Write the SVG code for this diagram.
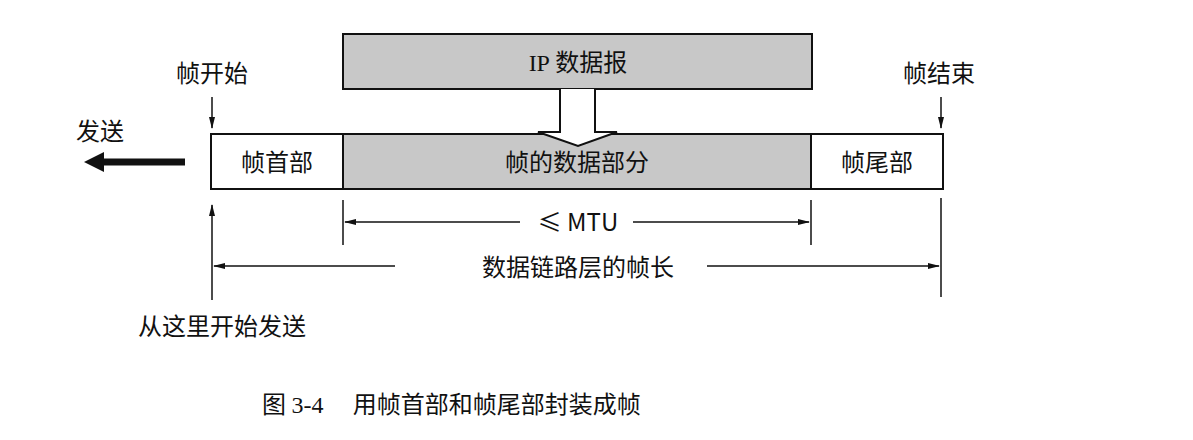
<svg xmlns="http://www.w3.org/2000/svg" width="1193" height="440" viewBox="0 0 1193 440">
<style>
text{font-family:"Noto Sans CJK SC","Liberation Serif",serif;fill:#111;font-size:24px}
.m{text-anchor:middle}
.box{stroke:#111;stroke-width:2}
.gray{fill:#c8c8c8}
.l{stroke:#111;stroke-width:1.5;fill:none}
</style>
<defs>
<marker id="a" markerWidth="12" markerHeight="8" refX="11" refY="4" orient="auto" markerUnits="userSpaceOnUse"><path d="M0,1 L12,4 L0,7 Z" fill="#111"/></marker>
</defs>
<rect width="1193" height="440" fill="#fff"/>
<g id="ip"><rect class="box gray" x="343" y="34" width="469" height="55"/><text class="m" x="578" y="71"><tspan font-family="Liberation Serif">IP</tspan> 数据报</text></g>
<g id="header"><rect class="box" x="211" y="134" width="132" height="55" fill="#fff"/><text class="m" x="277" y="171">帧首部</text></g>
<g id="data"><rect class="box gray" x="343" y="134" width="468" height="55"/><text class="m" x="577" y="171">帧的数据部分</text></g>
<g id="trailer"><rect class="box" x="811" y="134" width="132" height="55" fill="#fff"/><text class="m" x="877" y="171">帧尾部</text></g>
<g id="labels">
<text class="m" x="212" y="82">帧开始</text>
<text class="m" x="939" y="82">帧结束</text>
<text class="m" x="100" y="140">发送</text>
<text class="m" x="222" y="335">从这里开始发送</text>
<text class="m" x="578" y="231" font-family="Liberation Serif">≤ MTU</text>
<text class="m" x="578" y="276">数据链路层的帧长</text>
<text x="262" y="413" font-size="26">图 <tspan font-family="Liberation Serif">3-4</tspan>　 用帧首部和帧尾部封装成帧</text>
</g>
<g id="connectors">
<path d="M560,89 V132 H538 L578,146 L617,132 H595 V89" fill="#fff" stroke="#111" stroke-width="2"/>
<line class="l" x1="212" y1="97" x2="212" y2="128" marker-end="url(#a)"/>
<line class="l" x1="941" y1="97" x2="941" y2="128" marker-end="url(#a)"/>
<line x1="185" y1="162" x2="100" y2="162" stroke="#111" stroke-width="7"/>
<path d="M84,162 L104,152 L104,172 Z" fill="#111"/>
<line class="l" x1="212" y1="300" x2="212" y2="205" stroke-width="2" marker-end="url(#a)"/>
<line class="l" x1="343" y1="200" x2="343" y2="245"/>
<line class="l" x1="811" y1="200" x2="811" y2="245"/>
<line class="l" x1="941" y1="198" x2="941" y2="297"/>
<line class="l" x1="520" y1="222" x2="345" y2="222" marker-end="url(#a)"/>
<line class="l" x1="633" y1="222" x2="809" y2="222" marker-end="url(#a)"/>
<line class="l" x1="395" y1="266" x2="214" y2="266" marker-end="url(#a)"/>
<line class="l" x1="707" y1="266" x2="939" y2="266" marker-end="url(#a)"/>
</g>
</svg>
